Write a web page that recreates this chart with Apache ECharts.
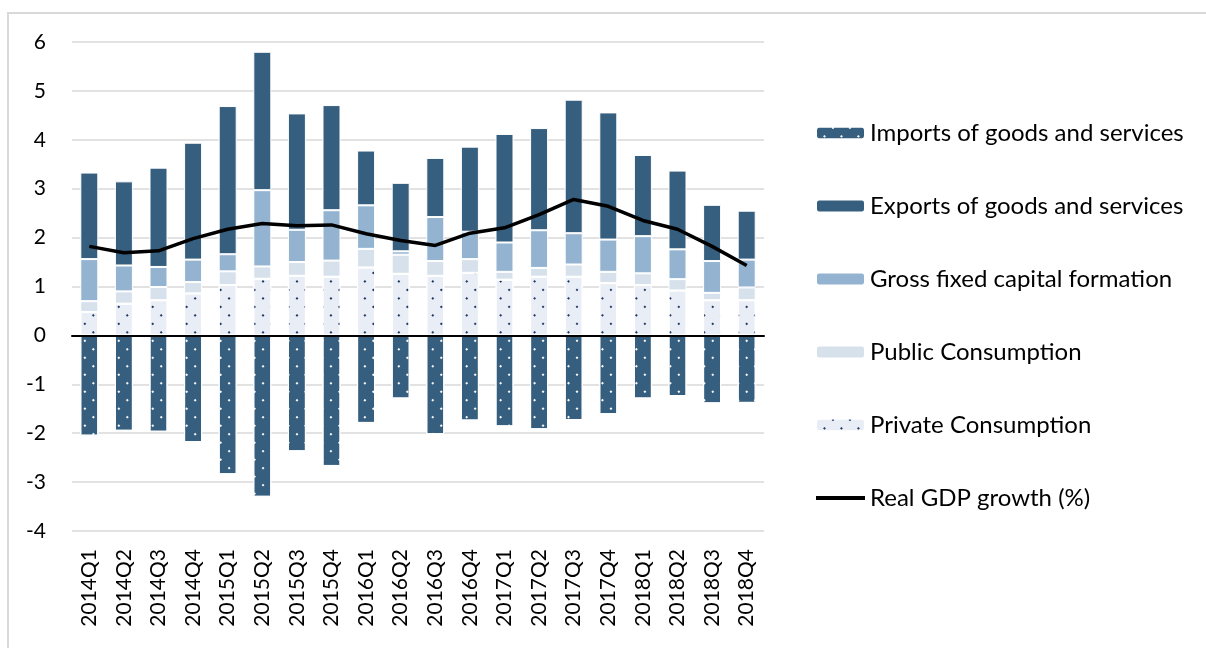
<!DOCTYPE html>
<html>
<head>
<meta charset="utf-8">
<script src="https://cdn.jsdelivr.net/npm/echarts@6/dist/echarts.min.js"></script>
<style>
  html, body { margin: 0; padding: 0; background: #fff; }
  #chart { width: 1206px; height: 648px; }
</style>
</head>
<body>
<div id="chart"></div>
<script>
const quarters = ['2014Q1', '2014Q2', '2014Q3', '2014Q4', '2015Q1', '2015Q2', '2015Q3', '2015Q4',
  '2016Q1', '2016Q2', '2016Q3', '2016Q4', '2017Q1', '2017Q2', '2017Q3', '2017Q4',
  '2018Q1', '2018Q2', '2018Q3', '2018Q4'];

// contributions to growth, percentage points
const privateCons = [0.48, 0.65, 0.72, 0.86, 1.03, 1.16, 1.22, 1.20, 1.39, 1.26, 1.22, 1.28, 1.14, 1.20, 1.20, 1.07, 1.03, 0.92, 0.72, 0.72];
const publicCons = [0.22, 0.25, 0.27, 0.23, 0.28, 0.25, 0.28, 0.33, 0.38, 0.39, 0.30, 0.28, 0.16, 0.18, 0.25, 0.23, 0.24, 0.23, 0.15, 0.26];
const gfcf = [0.86, 0.53, 0.41, 0.46, 0.35, 1.56, 0.66, 1.03, 0.89, 0.07, 0.90, 0.56, 0.60, 0.77, 0.64, 0.66, 0.76, 0.61, 0.65, 0.57];
const exportsGS = [1.77, 1.72, 2.03, 2.39, 3.03, 2.83, 2.38, 2.15, 1.12, 1.40, 1.21, 1.74, 2.22, 2.09, 2.73, 2.60, 1.66, 1.61, 1.15, 1.00];
const importsGS = [-2.05, -1.95, -1.97, -2.18, -2.84, -3.30, -2.37, -2.67, -1.79, -1.29, -2.02, -1.74, -1.86, -1.92, -1.73, -1.61, -1.29, -1.24, -1.39, -1.38];
const gdpGrowth = [1.82, 1.69, 1.73, 1.98, 2.17, 2.29, 2.24, 2.26, 2.08, 1.94, 1.84, 2.09, 2.20, 2.47, 2.78, 2.64, 2.35, 2.17, 1.82, 1.43];

const yTicks = { min: -4, max: 6, step: 1 };

const FONT = 'Lato, "Open Sans", sans-serif';
const DARK = '#365e7f';

// staggered dot pattern (square lattice turned 45deg)
const dots = (color) => ({
  symbol: 'rect',
  symbolSize: 1,
  color: color,
  dashArrayX: [2, 10],
  dashArrayY: [2, 10],
  rotation: Math.PI / 4
});

const barSeries = (name, data, color, decal) => ({
  name: name,
  type: 'bar',
  stack: 'contrib',
  barWidth: 18,
  data: data,
  itemStyle: Object.assign({
    color: color,
    borderColor: '#fff',
    borderWidth: 1
  }, decal ? { decal: decal } : {})
});

const chart = echarts.init(document.getElementById('chart'));

chart.setOption({
  animation: false,
  backgroundColor: '#fff',
  textStyle: { fontFamily: FONT },
  graphic: [
    {
      type: 'polyline',
      shape: { points: [[8, 648], [8, 13], [1206, 13]] },
      style: { stroke: '#d9d9d9', lineWidth: 2, fill: null },
      silent: true
    }
  ],
  grid: { left: 72, right: 442, top: 42, bottom: 117 },
  legend: {
    orient: 'vertical',
    left: 809,
    top: 116,
    itemWidth: 49,
    itemHeight: 13,
    itemGap: 49,
    textStyle: { fontFamily: FONT, fontSize: 24, color: '#000', lineHeight: 24 },
    data: [
      'Imports of goods and services',
      'Exports of goods and services',
      'Gross fixed capital formation',
      'Public Consumption',
      'Private Consumption',
      {
        name: 'Real GDP growth (%)',
        itemStyle: { color: 'rgba(0,0,0,0)', borderWidth: 0 },
        lineStyle: { color: '#000', width: 4 }
      }
    ]
  },
  xAxis: {
    type: 'category',
    data: quarters,
    z: 4,
    axisLine: { onZero: true, lineStyle: { color: '#000', width: 2 } },
    axisTick: { show: false },
    axisLabel: { rotate: 90, margin: 18, fontSize: 21, color: '#000', fontFamily: FONT, interval: 0 }
  },
  yAxis: {
    type: 'value',
    min: yTicks.min,
    max: yTicks.max,
    interval: yTicks.step,
    axisLine: { show: false },
    axisTick: { show: false },
    axisLabel: { fontSize: 21, color: '#000', margin: 26, fontFamily: FONT },
    splitLine: { lineStyle: { color: '#d9d9d9', width: 1.5 } }
  },
  series: [
    barSeries('Private Consumption', privateCons, '#e9eef6', dots('#1f3864')),
    barSeries('Public Consumption', publicCons, '#d6e1ec'),
    barSeries('Gross fixed capital formation', gfcf, '#93b3d0'),
    barSeries('Exports of goods and services', exportsGS, DARK),
    barSeries('Imports of goods and services', importsGS, DARK, dots('#ffffff')),
    {
      name: 'Real GDP growth (%)',
      type: 'line',
      data: gdpGrowth,
      symbol: 'none',
      z: 5,
      lineStyle: { color: '#000', width: 3.5 },
      itemStyle: { color: '#000' }
    }
  ]
});
</script>
</body>
</html>
